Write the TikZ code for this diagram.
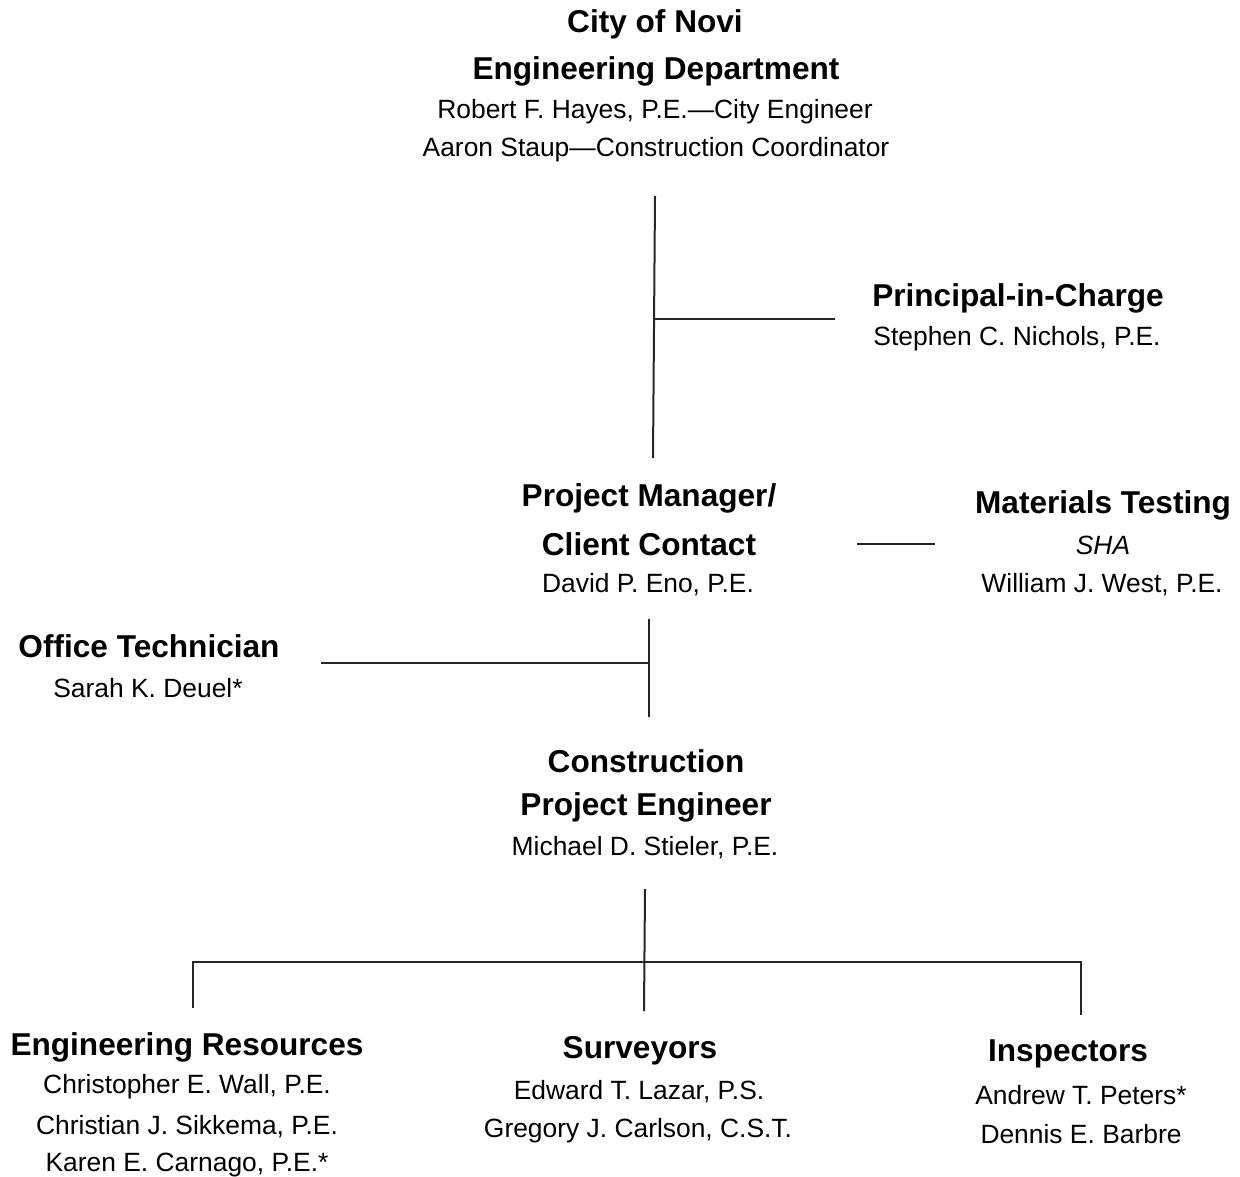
\documentclass[tikz,border=0pt]{standalone}
\usepackage{fontspec}
\setmainfont{Liberation Sans}
\begin{document}
\begin{tikzpicture}[x=0.5pt,y=-0.5pt,
  headtxt/.style={inner sep=0pt,anchor=center,yshift=-1pt,font=\fontsize{15.8}{18}\selectfont\bfseries},
  nametxt/.style={inner sep=0pt,anchor=center,yshift=-1pt,font=\fontsize{13.2}{15}\selectfont},
  link/.style={line width=1pt,black!85}]
\useasboundingbox (0,0) rectangle (1240,1176);
% City
\node[headtxt] (c1) at (655,22) {City of Novi};
\node[headtxt] (c2) at (656,69) {Engineering Department};
\node[nametxt] (c3) at (655,110) {Robert F. Hayes, P.E.—City Engineer};
\node[nametxt] (c4) at (656,148) {Aaron Staup—Construction Coordinator};
% Principal
\node[headtxt] (p1) at (1018,296) {Principal-in-Charge};
\node[nametxt] (p2) at (1017,337) {Stephen C. Nichols, P.E.};
% PM
\node[headtxt] (m1) at (649,496) {Project Manager/};
\node[headtxt] (m2) at (649,542) {Client Contact};
\node[nametxt] (m3) at (648,583) {David P. Eno, P.E.};
% Materials
\node[headtxt] (t1) at (1103,503) {Materials Testing};
\node[nametxt] (t2) at (1103,543) {\itshape SHA};
\node[nametxt] (t3) at (1102,583) {William J. West, P.E.};
% Office tech
\node[headtxt] (o1) at (149,644) {Office Technician};
\node[nametxt] (o2) at (148,686) {Sarah K. Deuel*};
% Construction PE
\node[headtxt] (e1) at (646,759) {Construction};
\node[headtxt] (e2) at (646,805) {Project Engineer};
\node[nametxt] (e3) at (645,846) {Michael D. Stieler, P.E.};
% Engineering resources
\node[headtxt] (r1) at (187,1045) {Engineering Resources};
\node[nametxt] (r2) at (187,1085) {Christopher E. Wall, P.E.};
\node[nametxt] (r3) at (187,1125) {Christian J. Sikkema, P.E.};
\node[nametxt] (r4) at (187,1163) {Karen E. Carnago, P.E.*};
% Surveyors
\node[headtxt] (s1) at (640,1049) {Surveyors};
\node[nametxt] (s2) at (639,1090) {Edward T. Lazar, P.S.};
\node[nametxt] (s3) at (638,1129) {Gregory J. Carlson, C.S.T.};
% Inspectors
\node[headtxt] (i1) at (1068,1052) {Inspectors};
\node[nametxt] (i2) at (1081,1093) {Andrew T. Peters*};
\node[nametxt] (i3) at (1081,1132) {Dennis E. Barbre};
% coordinates
\coordinate (a1) at (655,196);
\coordinate (a2) at (653,458);
\coordinate (a3) at (654,319);
\coordinate (a4) at (835,319);
\coordinate (b1) at (857,544);
\coordinate (b2) at (935,544);
\coordinate (d1) at (649,619);
\coordinate (d2) at (649,717);
\coordinate (d3) at (649,663);
\coordinate (d4) at (321,663);
\coordinate (f1) at (645,889);
\coordinate (f2) at (644,1011);
\coordinate (h1) at (193,962);
\coordinate (h2) at (1081,962);
\coordinate (h3) at (193,1008);
\coordinate (h4) at (1081,1015);
% connectors
\draw[link] (a1) -- (a2);
\draw[link] (a3) -- (a4);
\draw[link] (b1) -- (b2);
\draw[link] (d1) -- (d2);
\draw[link] (d3) -- (d4);
\draw[link] (f1) -- (f2);
\draw[link] (h3) -- (h1) -- (h2) -- (h4);
\end{tikzpicture}
\end{document}
